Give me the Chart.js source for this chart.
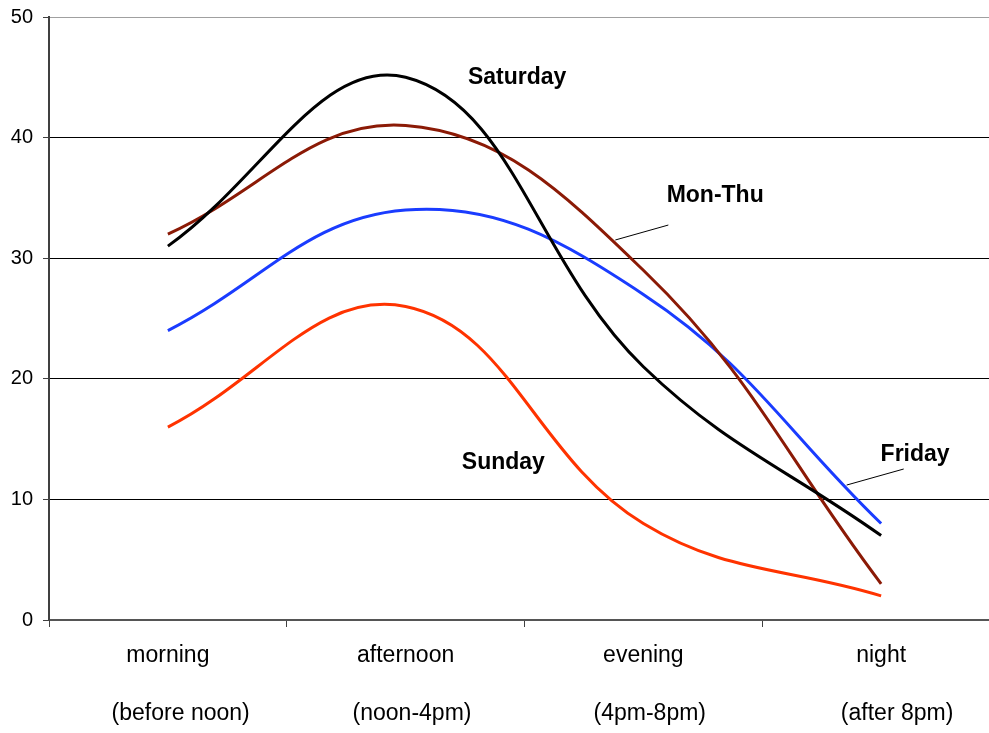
<!DOCTYPE html>
<html>
<head>
<meta charset="utf-8">
<script src="https://cdn.jsdelivr.net/npm/chart.js@4/dist/chart.umd.min.js"></script>
<style>
  html, body { margin: 0; padding: 0; background: #fff; overflow: hidden; }
  #wrap { position: relative; width: 1000px; height: 733px; }
</style>
</head>
<body>
<div id="wrap"><canvas id="c"></canvas></div>
<script>
// ---- data ----
const categories = [
  ['morning', '    (before noon)'],
  ['afternoon', '  (noon-4pm)'],
  ['evening', '  (4pm-8pm)'],
  ['night', '     (after 8pm)']
];
const monThu   = [32, 41, 29, 3];
const friday   = [24, 34, 27, 8];
const saturday = [31, 45, 21, 7];
const sunday   = [16, 26, 8, 2];
const yTicks   = [0, 10, 20, 30, 40, 50];

// labels placed in data coordinates [category index, value]
const seriesLabels = [
  { text: 'Saturday', at: [1.469, 45.0] },
  { text: 'Mon-Thu',  at: [2.302, 35.16], leader: [[2.105, 32.75], [1.882, 31.51]] },
  { text: 'Friday',   at: [3.143, 13.68], leader: [[3.095, 12.52], [2.855, 11.19]] },
  { text: 'Sunday',   at: [1.411, 13.02] }
];

const FONT = '"Liberation Sans", Arial, Helvetica, sans-serif';

const labelPlugin = {
  id: 'seriesLabels',
  afterDatasetsDraw(chart) {
    const ctx = chart.ctx, xs = chart.scales.x, ys = chart.scales.y;
    ctx.save();
    seriesLabels.forEach(l => {
      if (l.leader) {
        ctx.beginPath();
        ctx.strokeStyle = '#000';
        ctx.lineWidth = 1;
        ctx.moveTo(xs.getPixelForValue(l.leader[0][0]), ys.getPixelForValue(l.leader[0][1]));
        ctx.lineTo(xs.getPixelForValue(l.leader[1][0]), ys.getPixelForValue(l.leader[1][1]));
        ctx.stroke();
      }
      ctx.fillStyle = '#000';
      ctx.font = 'bold 23px ' + FONT;
      ctx.textAlign = 'center';
      ctx.textBaseline = 'middle';
      ctx.fillText(l.text, xs.getPixelForValue(l.at[0]), ys.getPixelForValue(l.at[1]));
    });
    ctx.restore();
  }
};

const mk = (label, data, color) => ({
  label, data, borderColor: color, backgroundColor: color,
  borderWidth: 3, pointRadius: 0, tension: 0.4, fill: false
});

new Chart(document.getElementById('c'), {
  type: 'line',
  data: {
    labels: categories,
    datasets: [
      mk('Saturday', saturday, '#000000'),
      mk('Mon-Thu', monThu, '#8B1A06'),
      mk('Friday', friday, '#1a3cff'),
      mk('Sunday', sunday, '#ff3300')
    ]
  },
  options: {
    responsive: true,
    maintainAspectRatio: false,
    animation: false,
    layout: { padding: { top: 17, right: 0, left: 0, bottom: 0 } },
    plugins: { legend: { display: false }, tooltip: { enabled: false } },
    scales: {
      x: {
        offset: true,
        grid: { offset: true, drawOnChartArea: false, drawTicks: true, tickLength: 7, color: '#404040', lineWidth: 1 },
        border: { display: true, color: '#555555', width: 2 },
        ticks: {
          color: '#000', padding: 0, maxRotation: 0, autoSkip: false,
          font: { family: FONT, size: 23, lineHeight: '58px' }
        },
        afterFit(s) { s.height = 113; }
      },
      y: {
        min: 0, max: 50,
        afterBuildTicks(s) { s.ticks = yTicks.map(v => ({ value: v })); },
        grid: {
          color: c => (c.tick && c.tick.value === 50) ? '#a0a0a0' : '#000000',
          tickColor: '#404040', tickLength: 6, lineWidth: 1
        },
        border: { display: true, color: '#404040', width: 2 },
        ticks: { color: '#000', padding: 10, font: { family: FONT, size: 20, lineHeight: 0.5 } },
        afterFit(s) { s.width = 49; }
      }
    }
  },
  plugins: [labelPlugin]
});
</script>
</body>
</html>
